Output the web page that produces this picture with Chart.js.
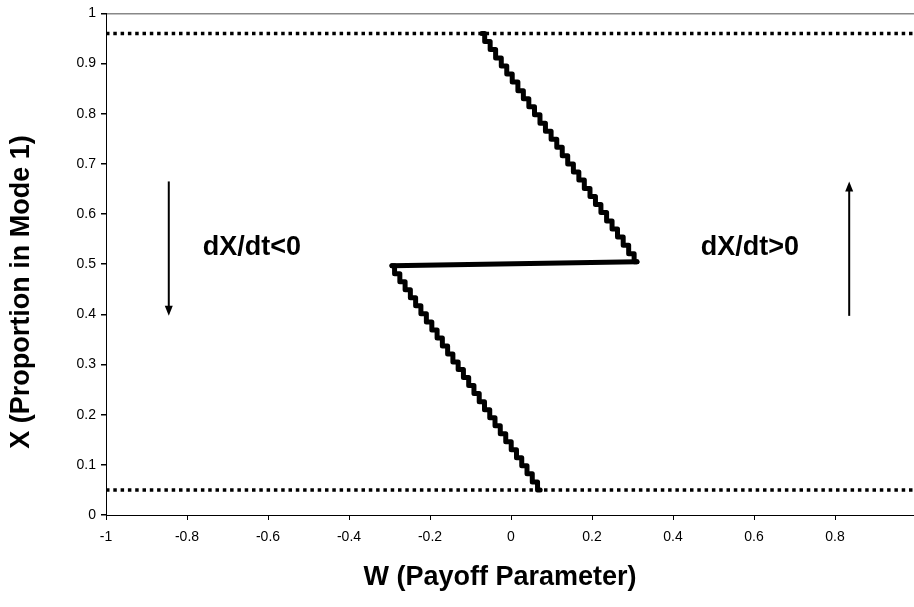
<!DOCTYPE html>
<html>
<head>
<meta charset="utf-8">
<script src="https://cdn.jsdelivr.net/npm/chart.js@4/dist/chart.umd.min.js"></script>
<style>
  html, body { margin: 0; padding: 0; background: #fff; }
  #wrap { width: 914px; height: 607px; }
</style>
</head>
<body>
<div id="wrap"><canvas id="chart"></canvas></div>
<script>
// upper branch of the switching curve (W, X)
const upperW = [-0.072, -0.058, -0.045, -0.031, -0.017, -0.004, 0.010, 0.024, 0.037, 0.051,
    0.065, 0.078, 0.092, 0.106, 0.120, 0.133, 0.147, 0.161, 0.174, 0.188,
    0.202, 0.215, 0.229, 0.243, 0.256, 0.270, 0.284, 0.297, 0.311];
const upperX = [0.960, 0.944, 0.928, 0.911, 0.895, 0.879, 0.863, 0.846, 0.830, 0.814,
    0.798, 0.781, 0.765, 0.749, 0.733, 0.716, 0.700, 0.684, 0.668, 0.651,
    0.635, 0.619, 0.603, 0.586, 0.570, 0.554, 0.538, 0.521, 0.505];

// jump between the branches
const jumpW = [0.311, -0.294];
const jumpX = [0.505, 0.497];

// lower branch
const lowerW = [-0.294, -0.281, -0.268, -0.255, -0.242, -0.229, -0.216, -0.202, -0.189, -0.176,
    -0.163, -0.150, -0.137, -0.124, -0.111, -0.098, -0.085, -0.072, -0.059, -0.046,
    -0.033, -0.020, -0.006, 0.007, 0.020, 0.033, 0.046, 0.059, 0.072];
const lowerX = [0.497, 0.481, 0.465, 0.449, 0.433, 0.417, 0.401, 0.385, 0.369, 0.353,
    0.337, 0.321, 0.305, 0.290, 0.274, 0.258, 0.242, 0.226, 0.210, 0.194,
    0.178, 0.162, 0.146, 0.130, 0.114, 0.098, 0.082, 0.066, 0.050];

// dotted bounds
const boundW = [-1, 0.995];
const highBound = [0.96, 0.96];
const lowBound = [0.05, 0.05];

// annotations
const noteText = ["dX/dt<0", "dX/dt>0"];
const noteW = [-0.64, 0.59];
const noteX = [0.534, 0.534];
const arrowW = [-0.845, 0.835];
const arrowFrom = [0.665, 0.397];
const arrowTo = [0.397, 0.665];

const xTitle = "W (Payoff Parameter)";
const yTitle = "X (Proportion in Mode 1)";

function pts(xs, ys) {
    return xs.map((x, i) => ({ x, y: ys[i] }));
}

const annotate = {
    id: "annotate",
    afterDatasetsDraw(chart) {
        const ctx = chart.ctx;
        const sx = chart.scales.x, sy = chart.scales.y;
        ctx.save();
        ctx.fillStyle = "#000";
        ctx.strokeStyle = "#000";
        ctx.font = "bold 27px 'Liberation Sans', Arial, sans-serif";
        ctx.textAlign = "center";
        ctx.textBaseline = "middle";
        noteText.forEach((t, i) => {
            ctx.fillText(t, sx.getPixelForValue(noteW[i]), sy.getPixelForValue(noteX[i]));
        });
        arrowW.forEach((w, i) => {
            const x = sx.getPixelForValue(w);
            const y0 = sy.getPixelForValue(arrowFrom[i]);
            const y1 = sy.getPixelForValue(arrowTo[i]);
            const dir = y1 > y0 ? 1 : -1;
            ctx.lineWidth = 2;
            ctx.beginPath();
            ctx.moveTo(x, y0);
            ctx.lineTo(x, y1 - dir * 8);
            ctx.stroke();
            ctx.beginPath();
            ctx.moveTo(x, y1);
            ctx.lineTo(x - 4, y1 - dir * 10);
            ctx.lineTo(x + 4, y1 - dir * 10);
            ctx.closePath();
            ctx.fill();
        });
        // axis titles
        ctx.fillText(xTitle, 500, 578);
        ctx.translate(22, 292);
        ctx.rotate(-Math.PI / 2);
        ctx.fillText(yTitle, 0, 0);
        ctx.restore();
    }
};

const tickFmt = v => String(Math.round(v * 10) / 10);

new Chart(document.getElementById("chart"), {
    type: "line",
    data: {
        datasets: [
            { data: pts(boundW, highBound), borderColor: "#000", borderWidth: 3.5, borderDash: [3.5, 3.8], pointRadius: 0 },
            { data: pts(boundW, lowBound), borderColor: "#000", borderWidth: 3.5, borderDash: [3.5, 3.8], pointRadius: 0 },
            { data: pts(upperW, upperX), borderColor: "#000", borderWidth: 5, stepped: "middle", pointRadius: 0, borderJoinStyle: "round", borderCapStyle: "round" },
            { data: pts(jumpW, jumpX), borderColor: "#000", borderWidth: 5, pointRadius: 0, borderCapStyle: "round" },
            { data: pts(lowerW, lowerX), borderColor: "#000", borderWidth: 5, stepped: "middle", pointRadius: 0, borderJoinStyle: "round", borderCapStyle: "round" }
        ]
    },
    options: {
        responsive: true,
        maintainAspectRatio: false,
        animation: false,
        layout: { padding: { top: 13, right: 0, left: 0, bottom: 0 } },
        plugins: { legend: { display: false }, tooltip: { enabled: false } },
        scales: {
            x: {
                type: "linear",
                min: -1,
                max: 0.995,
                afterFit: s => { s.height = 92; },
                border: { color: "#000", width: 1 },
                grid: { drawOnChartArea: false, tickColor: "#000", tickLength: 5 },
                ticks: {
                    stepSize: 0.2,
                    includeBounds: false,
                    padding: 9,
                    color: "#000",
                    callback: tickFmt,
                    font: { family: "'Liberation Sans', Arial", size: 14 }
                }
            },
            y: {
                min: 0,
                max: 1,
                afterFit: s => { s.width = 106; },
                border: { color: "#000", width: 1 },
                grid: {
                    color: c => (c.tick && c.tick.value === 1 ? "#888" : "rgba(0,0,0,0)"),
                    tickColor: "#000",
                    tickLength: 5,
                    lineWidth: 1.5
                },
                ticks: {
                    stepSize: 0.1,
                    padding: 5,
                    color: "#000",
                    callback: tickFmt,
                    font: { family: "'Liberation Sans', Arial", size: 14 }
                }
            }
        }
    },
    plugins: [annotate]
});
</script>
</body>
</html>
